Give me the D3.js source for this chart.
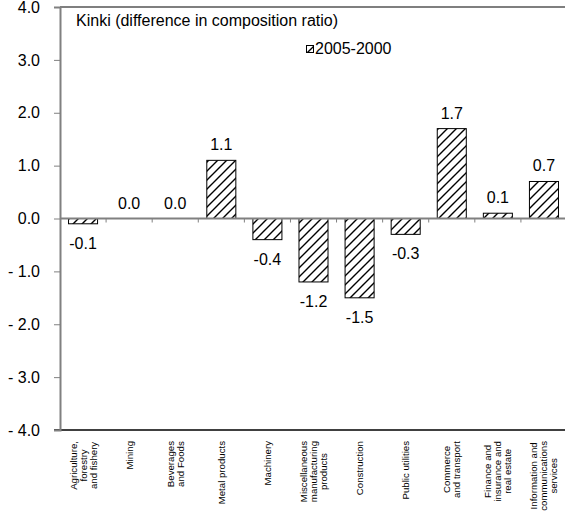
<!DOCTYPE html>
<html>
<head>
<meta charset="utf-8">
<script src="https://cdn.jsdelivr.net/npm/d3@7"></script>
<style>
  body { margin: 0; background: #fff; }
  text { font-family: "Liberation Sans", Arial, sans-serif; fill: #000; }
</style>
</head>
<body>
<div id="chart"></div>
<script>
// categories (line breaks as in the original labels)
var categories = [
  ["Agriculture,", "forestry", "and fishery"],
  ["Mining"],
  ["Beverages", "and Foods"],
  ["Metal products"],
  ["Machinery"],
  ["Miscellaneous", "manufacturing", "products"],
  ["Construction"],
  ["Public utilities"],
  ["Commerce", "and transport"],
  ["Finance and", "insurance and", "real estate"],
  ["Information and", "communications", "services"]
];
var values = [-0.1, 0.0, 0.0, 1.1, -0.4, -1.2, -1.5, -0.3, 1.7, 0.1, 0.7];
var yTicks = [4, 3, 2, 1, 0, -1, -2, -3, -4];
var seriesName = "2005-2000";
var chartTitle = "Kinki (difference in composition ratio)";

var svgWidth = 565;
var svgHeight = 512;

var svg = d3.select("#chart")
  .append("svg")
  .attr("width", svgWidth)
  .attr("height", svgHeight);

// hatch pattern
var defs = svg.append("defs");
defs.append("pattern")
  .attr("id", "hatch")
  .attr("patternUnits", "userSpaceOnUse")
  .attr("width", 9)
  .attr("height", 9)
  .append("path")
  .attr("d", "M-2,2 l4,-4 M0,9 l9,-9 M7,11 l4,-4")
  .attr("stroke", "#000")
  .attr("stroke-width", 1.4);

var x = d3.scaleBand()
  .domain(d3.range(categories.length))
  .range([60, 567])
  .paddingInner(0.37)
  .paddingOuter(0.185);

var xStep = (567 - 60) / categories.length;

var y = d3.scaleLinear()
  .domain([-4, 4])
  .range([430, 7]);

// frame lines top and bottom
svg.append("line")
  .attr("x1", 60).attr("x2", 567)
  .attr("y1", y(4)).attr("y2", y(4))
  .attr("stroke", "#000").attr("stroke-width", 1.2);

svg.append("line")
  .attr("x1", 54).attr("x2", 567)
  .attr("y1", y(-4)).attr("y2", y(-4))
  .attr("stroke", "#000").attr("stroke-width", 1.5);

// y axis
var leftAxis = d3.axisLeft(y)
  .tickValues(yTicks)
  .tickSize(6)
  .tickFormat(function(d) {
    return d < 0 ? "- " + Math.abs(d).toFixed(1) : d.toFixed(1);
  });

var yAxis = svg.append("g")
  .attr("transform", "translate(60,0)")
  .call(leftAxis);
yAxis.select(".domain").attr("stroke", "#808080").attr("stroke-width", 2);
yAxis.selectAll(".tick line").attr("stroke", "#808080").attr("stroke-width", 1);
yAxis.selectAll(".tick text")
  .attr("x", -20)
  .style("font-size", "16px")
  .style("font-family", "Liberation Sans, Arial, sans-serif")
  .attr("fill", "#000");

// bars
svg.selectAll(".bar")
  .data(values)
  .enter()
  .append("rect")
  .attr("class", "bar")
  .attr("x", function(d, i) { return x(i); })
  .attr("width", x.bandwidth())
  .attr("y", function(d) { return y(Math.max(0, d)); })
  .attr("height", function(d) { return Math.abs(y(d) - y(0)); })
  .attr("fill", "url(#hatch)")
  .attr("stroke", "#000")
  .attr("stroke-width", 1)
  .attr("display", function(d) { return d === 0 ? "none" : null; });

// zero line with category ticks
svg.append("line")
  .attr("x1", 60).attr("x2", 567)
  .attr("y1", y(0)).attr("y2", y(0))
  .attr("stroke", "#808080").attr("stroke-width", 2);

svg.selectAll(".ztick")
  .data(d3.range(1, categories.length + 1))
  .enter()
  .append("line")
  .attr("x1", function(i) { return 60 + i * xStep; })
  .attr("x2", function(i) { return 60 + i * xStep; })
  .attr("y1", y(0))
  .attr("y2", y(0) + 4)
  .attr("stroke", "#808080")
  .attr("stroke-width", 1);

// value labels
svg.selectAll(".vlabel")
  .data(values)
  .enter()
  .append("text")
  .attr("class", "vlabel")
  .attr("x", function(d, i) { return x(i) + x.bandwidth() / 2; })
  .attr("y", function(d) { return d < 0 ? y(d) + 25 : y(d) - 10; })
  .attr("text-anchor", "middle")
  .style("font-size", "16px")
  .text(function(d) { return d.toFixed(1); });

// category labels, rotated (slightly condensed like the original)
var sx = 0.92, sy = 0.9;
var catGroups = svg.selectAll(".cat")
  .data(categories)
  .enter()
  .append("g")
  .attr("class", "cat")
  .attr("transform", function(d, i) {
    return "translate(" + (x(i) + x.bandwidth() / 2) + ",441) rotate(-90) scale(" + sx + "," + sy + ")";
  });

catGroups.each(function(lines) {
  var g = d3.select(this);
  var n = lines.length;
  var texts = g.selectAll("text")
    .data(lines)
    .enter()
    .append("text")
    .style("font-size", "10.5px")
    .attr("text-anchor", "middle")
    .attr("y", function(d, j) { return ((j - (n - 1) / 2) * 10 + 3.5) / sy; })
    .text(function(d) { return d; });
  var maxLen = 0;
  texts.each(function() { maxLen = Math.max(maxLen, this.getComputedTextLength()); });
  texts.attr("x", -maxLen / 2);
});

// title
svg.append("text")
  .attr("x", 76)
  .attr("y", 26)
  .style("font-size", "16px")
  .text(chartTitle);

// legend
svg.append("rect")
  .attr("x", 306.5)
  .attr("y", 45.5)
  .attr("width", 7)
  .attr("height", 7)
  .attr("fill", "url(#hatch)")
  .attr("stroke", "#000")
  .attr("stroke-width", 1);

svg.append("text")
  .attr("x", 315)
  .attr("y", 54)
  .style("font-size", "16px")
  .text(seriesName);
</script>
</body>
</html>
